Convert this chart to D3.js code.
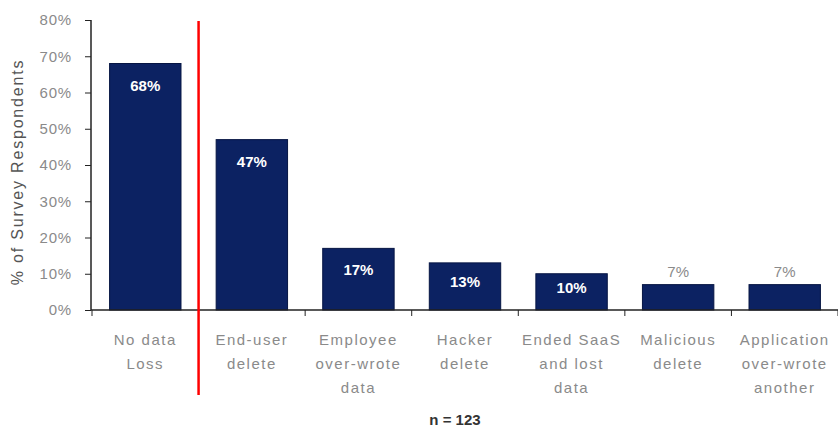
<!DOCTYPE html>
<html>
<head>
<meta charset="UTF-8">
<script src="https://d3js.org/d3.v7.min.js"></script>
<style>
  body { margin: 0; background: #fff; }
  text { font-family: "Liberation Sans", "DejaVu Sans", sans-serif; }
</style>
</head>
<body>
<svg class="chart"></svg>
<script>
var width = 838, height = 432;

var categories = [
  ["No data", "Loss"],
  ["End-user", "delete"],
  ["Employee", "over-wrote", "data"],
  ["Hacker", "delete"],
  ["Ended SaaS", "and lost", "data"],
  ["Malicious", "delete"],
  ["Application", "over-wrote", "another"]
];
var values = [0.68, 0.47, 0.17, 0.13, 0.10, 0.07, 0.07];
var yTicks = [0, 0.1, 0.2, 0.3, 0.4, 0.5, 0.6, 0.7, 0.8];
var outsideLabel = [false, false, false, false, false, true, true];

var svg = d3.select(".chart").attr("width", width).attr("height", height);

var x = d3.scaleBand()
  .domain(d3.range(categories.length))
  .range([92, 838])
  .paddingInner(0.33)
  .paddingOuter(0.165);

var y = d3.scaleLinear().domain([0, 0.8]).range([310, 20]);

// y axis
var yAxis = svg.append("g").attr("transform", "translate(91,0)")
  .call(d3.axisLeft(y).tickValues(yTicks).tickSize(6)
    .tickFormat(d3.format(".0%")));
yAxis.select(".domain").attr("stroke", "#222").attr("stroke-width", 1.5).attr("d", "M0,20V310");
yAxis.selectAll(".tick line").attr("stroke", "#222");
yAxis.selectAll(".tick text").attr("fill", "#8a8a8a").attr("font-size", 15)
  .attr("x", -19).attr("letter-spacing", "0.8px");

// bars
svg.append("g").selectAll("rect").data(values).enter().append("rect")
  .attr("x", function(d, i) { return x(i); })
  .attr("y", function(d) { return y(d); })
  .attr("width", x.bandwidth())
  .attr("height", function(d) { return y(0) - y(d); })
  .attr("fill", "#0c2262")
  .attr("stroke", "#061543")
  .attr("stroke-width", 1);

// value labels
svg.append("g").selectAll("text").data(values).enter().append("text")
  .attr("x", function(d, i) { return x(i) + x.bandwidth() / 2; })
  .attr("y", function(d, i) {
    if (outsideLabel[i]) return y(d) - 8;
    var top = y(d), mid = (top + y(0)) / 2;
    return Math.min(top + 27, mid + 1);
  })
  .attr("text-anchor", "middle")
  .attr("font-size", 15)
  .attr("font-weight", function(d, i) { return outsideLabel[i] ? "normal" : "bold"; })
  .attr("fill", function(d, i) { return outsideLabel[i] ? "#8a8a8a" : "#fff"; })
  .text(function(d) { return Math.round(d * 100) + "%"; });

// x axis
svg.append("line").attr("x1", 91).attr("x2", 838).attr("y1", 310).attr("y2", 310)
  .attr("stroke", "#222").attr("stroke-width", 1.5);
svg.append("g").selectAll("line").data(d3.range(categories.length + 1)).enter().append("line")
  .attr("x1", function(i) { return x.range()[0] + i * x.step(); })
  .attr("x2", function(i) { return x.range()[0] + i * x.step(); })
  .attr("y1", 310).attr("y2", 316)
  .attr("stroke", "#222");

// category labels
var cat = svg.append("g").selectAll("text").data(categories).enter().append("text")
  .attr("text-anchor", "middle")
  .attr("font-size", 15)
  .attr("letter-spacing", "1.5px")
  .attr("fill", "#8a8a8a");
cat.selectAll("tspan").data(function(d, i) { return d.map(function(s) { return {s: s, i: i}; }); })
  .enter().append("tspan")
  .attr("x", function(d) { return x(d.i) + x.bandwidth() / 2; })
  .attr("y", function(d, j) { return 345 + j * 24; })
  .text(function(d) { return d.s; });

// red divider
svg.append("line")
  .attr("x1", x.range()[0] + x.step()).attr("x2", x.range()[0] + x.step())
  .attr("y1", 21).attr("y2", 395)
  .attr("stroke", "#ff0000").attr("stroke-width", 2.5);

// y title
svg.append("text")
  .attr("transform", "translate(23,172) rotate(-90)")
  .attr("text-anchor", "middle")
  .attr("font-size", 16)
  .attr("letter-spacing", "1.8px")
  .attr("fill", "#555")
  .text("% of Survey Respondents");

// n note
svg.append("text")
  .attr("x", 455).attr("y", 425)
  .attr("text-anchor", "middle")
  .attr("font-size", 15)
  .attr("font-weight", "bold")
  .attr("fill", "#333")
  .text("n = 123");
</script>
</body>
</html>
